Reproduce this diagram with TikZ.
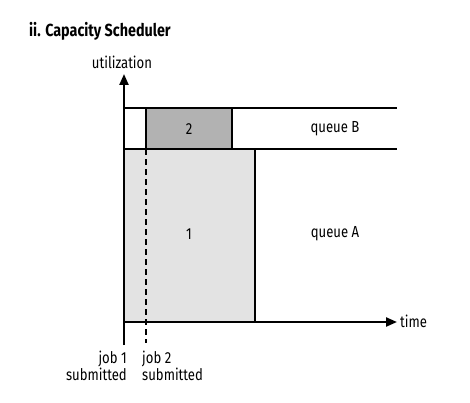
\documentclass[tikz,border=0pt]{standalone}
\usepackage{fontspec}
\setmainfont[FakeStretch=0.82]{Fira Sans}
\usetikzlibrary{arrows.meta}

\tikzset{
  axis/.style={line width=2.2pt, -{Triangle[length=11pt,width=9pt]}},
  queueline/.style={line width=1.8pt},
  jobbox/.style={line width=1.8pt, draw=black},
  submitline/.style={line width=2.2pt, dash pattern=on 6pt off 4pt},
  lbl/.style={inner sep=1pt}
}

\begin{document}
\begin{tikzpicture}[x=10pt, y=10pt, font=\fontsize{16}{17}\selectfont]
	%%%%% START %%%%%
	\useasboundingbox (0, 0) rectangle (47, 40.2);

	% axes
	\coordinate (o) at (12.4, 8);
	\coordinate (ybot) at (12.4, 5.7);
	\coordinate (ytop) at (12.4, 32.8);
	\coordinate (xend) at (39.7, 8);

	% queue borders
	\coordinate (midl) at (12.4, 25.3);
	\coordinate (midr) at (39.7, 25.3);
	\coordinate (topl) at (12.4, 29.4);
	\coordinate (topr) at (39.7, 29.4);

	% job 2 submit time
	\coordinate (subtop) at (14.6, 25.3);
	\coordinate (subbot) at (14.6, 5.9);

	\draw[jobbox, fill=black!11] (o) rectangle (25.5, 25.3);
	\draw[jobbox, fill=black!30] (subtop) rectangle (23.2, 29.4);

	\draw[queueline] (midl) -- (midr);
	\draw[queueline] (topl) -- (topr);

	\draw[submitline] (subtop) -- (subbot);

	\draw[axis] (ybot) -- (ytop);
	\draw[axis] (o) -- (xend);

	\node[lbl, anchor=west, font=\fontsize{17.5}{18}\selectfont\bfseries] (title) at (2.8, 37.1) {ii. Capacity Scheduler};
	\node[lbl] (util) at (12.2, 34.0) {utilization};
	\node[lbl, anchor=west] (time) at (39.9, 8.1) {time};

	\node[lbl] (job2) at (18.9, 27.3) {2};
	\node[lbl] (job1) at (18.9, 16.8) {1};
	\node[lbl] (queueb) at (33.5, 27.3) {queue B};
	\node[lbl] (queuea) at (33.5, 16.8) {queue A};

	\node[lbl, anchor=north east, align=right] (sub1) at (12.8, 5.2) {job 1\\submitted};
	\node[lbl, anchor=north west, align=left] (sub2) at (14.1, 5.2) {job 2\\submitted};
	%%%%% END %%%%%
\end{tikzpicture}
\end{document}
